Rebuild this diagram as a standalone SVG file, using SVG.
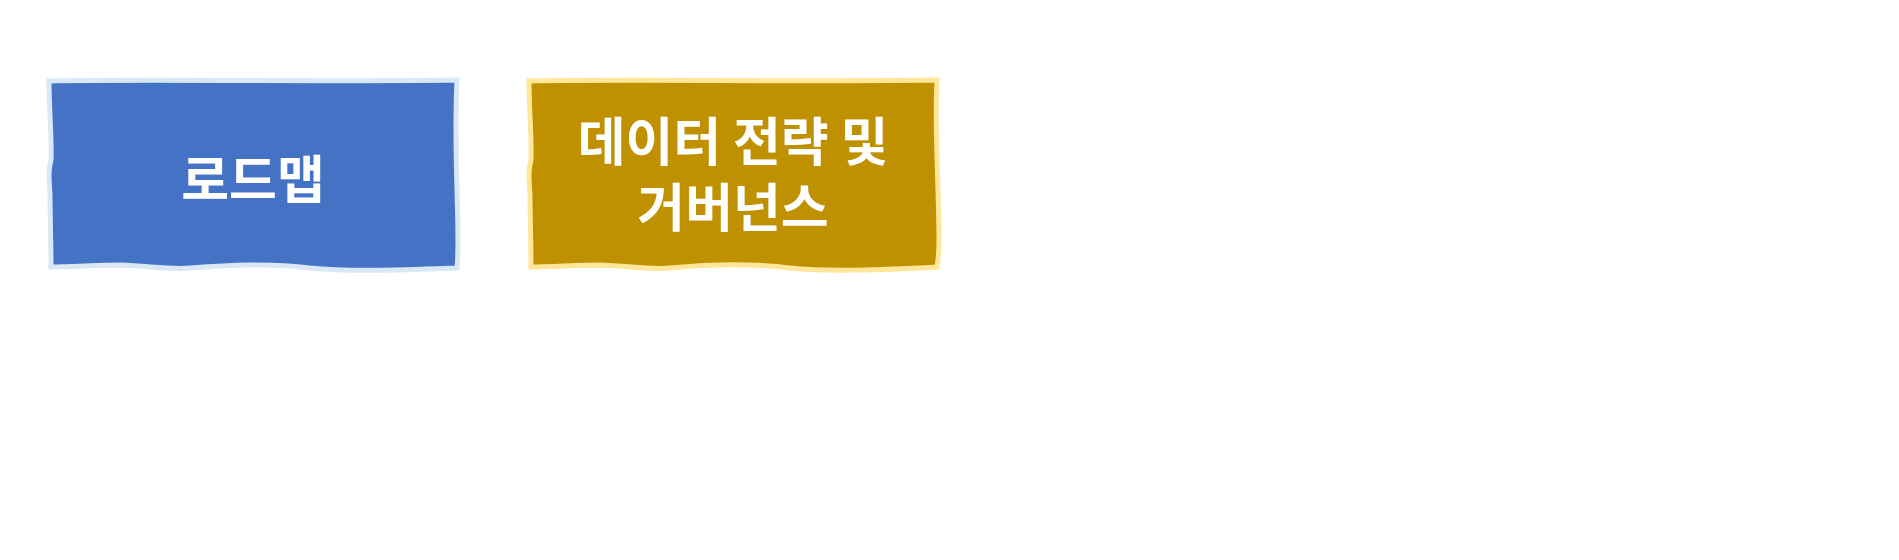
<svg xmlns="http://www.w3.org/2000/svg" width="1899" height="560" viewBox="0 0 1899 560">
<style>
.lbl{font-family:"Noto Sans CJK KR","Noto Sans",sans-serif;font-weight:700;font-size:52px;fill:#ffffff;text-anchor:middle;dominant-baseline:central}
.blue{fill:#4472C4;stroke:#DAE8F5;stroke-width:5}
.gold{fill:#BF9000;stroke:#FFE699;stroke-width:5}
</style>
<rect width="1899" height="560" fill="#ffffff"/>
<g id="node-roadmap">
<path class="blue" d="M49,81 C150,79 300,82 457,80 C455,120 456,150 457,190 C458,230 459,250 457,268 C400,270 350,272 310,268 C270,263 230,265 190,268 C170,270 150,266 120,265 C100,265 70,267 51,267 C51,240 50,215 50,195 C49,180 48,170 51,160 C52,140 49,110 49,81 Z"/>
<text class="lbl" x="253" y="176">로드맵</text>
</g>
<g id="node-governance">
<path class="gold" d="M529,81 C630,79 780,82 937,80 C935,120 937,150 938,190 C939,230 940,250 937,267 C880,270 830,272 790,268 C750,263 710,264 670,268 C650,270 630,266 600,265 C580,265 550,267 531,267 C531,240 530,215 530,195 C529,180 528,170 531,160 C532,140 529,110 529,81 Z"/>
<text class="lbl"><tspan x="733" y="138">데이터 전략 및</tspan><tspan x="733" y="204">거버넌스</tspan></text>
</g>
<g id="connectors"/>
</svg>
